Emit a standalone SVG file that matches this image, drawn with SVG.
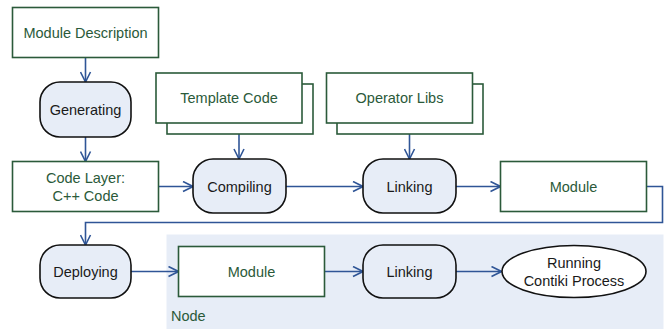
<svg xmlns="http://www.w3.org/2000/svg" width="668" height="329" viewBox="0 0 668 329">
  <style>
    .box { fill: #ffffff; stroke: #2b5a3a; stroke-width: 1.6; }
    .act { fill: #e7edf7; stroke: #111111; stroke-width: 1.6; }
    .end { fill: #ffffff; stroke: #111111; stroke-width: 1.6; }
    .gt { font-family: "Liberation Sans", Arial, sans-serif; font-size: 14.5px; fill: #2b5a3a; text-anchor: middle; }
    .bt { font-family: "Liberation Sans", Arial, sans-serif; font-size: 14.5px; fill: #1a1a1a; text-anchor: middle; }
    .wire { fill: none; stroke: #2f5596; stroke-width: 1.6; marker-end: url(#arr); }
  </style>
  <defs>
    <marker id="arr" viewBox="0 0 12 12" refX="11" refY="6" markerWidth="12" markerHeight="12" markerUnits="userSpaceOnUse" orient="auto">
      <path d="M1,1 L11,6 L1,11" fill="none" stroke="#2f5596" stroke-width="1.6"/>
    </marker>
  </defs>

  <!-- deployment target area -->
  <g id="node-area">
    <rect x="166.5" y="234.5" width="497" height="95" fill="#e7edf7"/>
    <text x="171" y="321" font-family="Liberation Sans, Arial, sans-serif" font-size="14.5" fill="#2b5a3a">Node</text>
  </g>

  <g id="connectors">
    <path class="wire" d="M85.5,57.5 V82"/>
    <path class="wire" d="M85.5,137 V161.5"/>
    <path class="wire" d="M239,134 V159"/>
    <path class="wire" d="M409.5,134 V159"/>
    <path class="wire" d="M158.5,186.5 H193"/>
    <path class="wire" d="M286,186.5 H363"/>
    <path class="wire" d="M456,186.5 H500.5"/>
    <path class="wire" d="M646.5,186.5 H662.5 V222.5 H85.5 V245"/>
    <path class="wire" d="M131,271.5 H178.5"/>
    <path class="wire" d="M324.5,271.5 H363"/>
    <path class="wire" d="M456,271.5 H501.5"/>
  </g>

  <g id="module-description">
    <rect class="box" x="12.5" y="7.5" width="146" height="50"/>
    <text class="gt" x="85.5" y="37.5">Module Description</text>
  </g>

  <g id="generating">
    <rect class="act" x="40" y="82" width="91" height="55" rx="20" ry="20"/>
    <text class="bt" x="85.5" y="114.5">Generating</text>
  </g>

  <g id="template-code">
    <rect class="box" x="167" y="84" width="146" height="50"/>
    <rect class="box" x="156" y="73" width="146" height="50"/>
    <text class="gt" x="229" y="103">Template Code</text>
  </g>

  <g id="operator-libs">
    <rect class="box" x="337" y="84" width="146" height="50"/>
    <rect class="box" x="326.5" y="73" width="146" height="50"/>
    <text class="gt" x="399.5" y="103">Operator Libs</text>
  </g>

  <g id="code-layer">
    <rect class="box" x="12.5" y="161.5" width="146" height="50"/>
    <text class="gt" x="85.5" y="182.5">Code Layer:</text>
    <text class="gt" x="85.5" y="200.5">C++ Code</text>
  </g>

  <g id="compiling">
    <rect class="act" x="193" y="159" width="93" height="54" rx="20" ry="20"/>
    <text class="bt" x="239.5" y="191.5">Compiling</text>
  </g>

  <g id="linking-build">
    <rect class="act" x="363" y="159" width="93" height="54" rx="20" ry="20"/>
    <text class="bt" x="409.5" y="191.5">Linking</text>
  </g>

  <g id="module-build">
    <rect class="box" x="500.5" y="161.5" width="146" height="50"/>
    <text class="gt" x="573.5" y="191.5">Module</text>
  </g>

  <g id="deploying">
    <rect class="act" x="40" y="245" width="91" height="53" rx="20" ry="20"/>
    <text class="bt" x="85.5" y="276.5">Deploying</text>
  </g>

  <g id="module-node">
    <rect class="box" x="178.5" y="246.5" width="146" height="50"/>
    <text class="gt" x="251.5" y="276.5">Module</text>
  </g>

  <g id="linking-node">
    <rect class="act" x="363" y="245" width="93" height="53" rx="20" ry="20"/>
    <text class="bt" x="409.5" y="276.5">Linking</text>
  </g>

  <g id="running-process">
    <ellipse class="end" cx="574" cy="271.5" rx="72" ry="26"/>
    <text class="bt" x="574" y="268">Running</text>
    <text class="bt" x="574" y="285.5">Contiki Process</text>
  </g>
</svg>
